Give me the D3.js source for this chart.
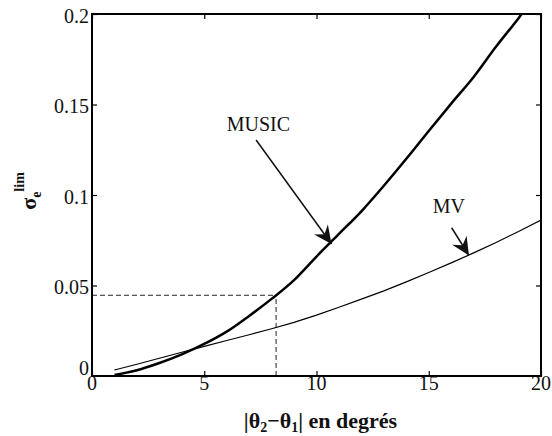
<!DOCTYPE html>
<html>
<head>
<meta charset="utf-8">
<script src="https://cdn.jsdelivr.net/npm/d3@7"></script>
</head>
<body style="margin:0">
<div id="chart"></div>
<script>
// angle separation (degrees)
const separation = [1, 2, 3, 4, 5, 6, 7, 8, 9, 10, 11, 12, 13, 14, 15, 16, 17, 18, 19, 20]
// threshold values
const musicValues = [0.0006, 0.0032, 0.0072, 0.0120, 0.0177, 0.0245, 0.0332, 0.0426, 0.0530, 0.0660,
    0.0785, 0.0910, 0.1051, 0.1200, 0.1354, 0.1505, 0.1652, 0.1820, 0.1977, 0.2145]
const mvValues = [0.0033, 0.0065, 0.0098, 0.0131, 0.0164, 0.0196, 0.0228, 0.0261, 0.0296, 0.0336,
    0.0380, 0.0425, 0.0470, 0.0520, 0.0572, 0.0625, 0.0680, 0.0738, 0.0798, 0.0862]
const xTicks = [0, 5, 10, 15, 20]
const yTicks = [0, 0.05, 0.1, 0.15, 0.2]
// dashed guide at the reference point
const guidePoint = [8.2, 0.0446]
// annotations: label position, arrow start, arrow tip (data units)
const annotations = [
    {label: "MUSIC", at: [6.0, 0.1355], from: [7.31, 0.1304], to: [10.67, 0.0729]},
    {label: "MV", at: [15.18, 0.0900], from: [16.02, 0.0819], to: [16.79, 0.0666]},
]

const serif = '"Liberation Serif", Tinos, "Times New Roman", "Nimbus Roman", Times'
const width = 552
const height = 436
const margin = {top: 14, right: 11, bottom: 60, left: 92}

const svg = d3.select("#chart").append("svg")
    .attr("width", width)
    .attr("height", height)

const x = d3.scaleLinear().domain([0, 20]).range([margin.left, width - margin.right])
const y = d3.scaleLinear().domain([0, 0.2]).range([height - margin.bottom, margin.top])

svg.append("defs").append("clipPath").attr("id", "plot-clip")
    .append("rect")
    .attr("x", x(0)).attr("y", y(0.2))
    .attr("width", x(20) - x(0)).attr("height", y(0) - y(0.2))

// dashed guide lines
const guides = svg.append("g")
    .attr("stroke", "#222")
    .attr("stroke-width", 1)
    .attr("stroke-dasharray", "5,3")
guides.append("line")
    .attr("x1", x(0)).attr("x2", x(guidePoint[0]))
    .attr("y1", y(guidePoint[1])).attr("y2", y(guidePoint[1]))
guides.append("line")
    .attr("x1", x(guidePoint[0])).attr("x2", x(guidePoint[0]))
    .attr("y1", y(0)).attr("y2", y(guidePoint[1]))

const smoothLine = d3.line()
    .x(d => x(d[0]))
    .y(d => y(d[1]))
    .curve(d3.curveMonotoneX)
const straightLine = d3.line()
    .x(d => x(d[0]))
    .y(d => y(d[1]))

const curves = svg.append("g").attr("clip-path", "url(#plot-clip)").attr("fill", "none")
curves.append("path")
    .attr("d", smoothLine(d3.zip(separation, musicValues)))
    .attr("stroke", "#000")
    .attr("stroke-width", 2.5)
    .attr("stroke-linejoin", "round")
curves.append("path")
    .attr("d", straightLine(d3.zip(separation, mvValues)))
    .attr("stroke", "#000")
    .attr("stroke-width", 1.2)

// axes: inward ticks on all four sides, labels drawn as plain text below
const axes = svg.append("g")
axes.append("g")
    .attr("transform", `translate(0,${y(0)})`)
    .call(d3.axisBottom(x).tickValues(xTicks).tickSizeInner(-5).tickSizeOuter(0).tickFormat(""))
axes.append("g")
    .attr("transform", `translate(0,${y(0.2)})`)
    .call(d3.axisTop(x).tickValues(xTicks).tickSizeInner(-5).tickSizeOuter(0).tickFormat(""))
axes.append("g")
    .attr("transform", `translate(${x(0)},0)`)
    .call(d3.axisLeft(y).tickValues(yTicks).tickSizeInner(-5).tickSizeOuter(0).tickFormat(""))
axes.append("g")
    .attr("transform", `translate(${x(20)},0)`)
    .call(d3.axisRight(y).tickValues(yTicks).tickSizeInner(-5).tickSizeOuter(0).tickFormat(""))
axes.selectAll(".domain").remove()
axes.selectAll(".tick text").remove()
axes.selectAll(".tick line").attr("stroke", "#000").attr("stroke-width", 1.2)

svg.selectAll(".x-label")
    .data(xTicks)
    .join("text")
    .attr("class", "x-label")
    .attr("font-family", serif)
    .attr("font-size", 20)
    .attr("fill", "#111")
    .attr("x", d => x(d))
    .attr("y", y(0) + 14)
    .attr("text-anchor", "middle")
    .text(d3.format("d"))

// y "0" sits above the corner like the original
svg.selectAll(".y-label")
    .data(yTicks)
    .join("text")
    .attr("class", "y-label")
    .attr("font-family", serif)
    .attr("font-size", 20)
    .attr("fill", "#111")
    .attr("x", x(0) - 3)
    .attr("y", d => d === 0 ? y(d) - 1 : y(d) + 8.5)
    .attr("text-anchor", "end")
    .text(d => d3.format("")(d))

svg.append("rect")
    .attr("x", x(0)).attr("y", y(0.2))
    .attr("width", x(20) - x(0)).attr("height", y(0) - y(0.2))
    .attr("fill", "none")
    .attr("stroke", "#000")
    .attr("stroke-width", 2)

// annotations with notched arrowheads
function arrowHead(tip, from) {
    const dx = tip[0] - from[0]
    const dy = tip[1] - from[1]
    const len = Math.hypot(dx, dy)
    const ux = dx / len, uy = dy / len
    const px = -uy, py = ux
    const headLen = 18, halfW = 8.5, notch = 12
    const bx = tip[0] - ux * headLen, by = tip[1] - uy * headLen
    return [
        [tip[0], tip[1]],
        [bx + px * halfW, by + py * halfW],
        [tip[0] - ux * notch, tip[1] - uy * notch],
        [bx - px * halfW, by - py * halfW],
    ]
}

annotations.forEach(a => {
    const from = [x(a.from[0]), y(a.from[1])]
    const tip = [x(a.to[0]), y(a.to[1])]
    svg.append("line")
        .attr("x1", from[0]).attr("y1", from[1])
        .attr("x2", tip[0]).attr("y2", tip[1])
        .attr("stroke", "#111")
        .attr("stroke-width", 1.5)
    svg.append("polygon")
        .attr("points", arrowHead(tip, from).map(p => p.join(",")).join(" "))
        .attr("fill", "#111")
    svg.append("text")
        .attr("font-family", serif)
        .attr("font-size", 20)
        .attr("fill", "#111")
        .attr("x", x(a.at[0]))
        .attr("y", y(a.at[1]))
        .text(a.label)
})

// axis titles
const xTitle = svg.append("text")
    .attr("font-family", serif)
    .attr("x", (x(0) + x(20)) / 2 + 4)
    .attr("y", 428)
    .attr("text-anchor", "middle")
    .attr("font-size", 22)
    .attr("font-weight", "bold")
    .attr("fill", "#111")
xTitle.append("tspan").text("|θ")
xTitle.append("tspan").attr("font-size", 14).attr("dy", 4).text("2")
xTitle.append("tspan").attr("dy", -4).text("−θ")
xTitle.append("tspan").attr("font-size", 14).attr("dy", 4).text("1")
xTitle.append("tspan").attr("dy", -4).text("| en degrés")

const yTitle = svg.append("text")
    .attr("font-family", serif)
    .attr("transform", `translate(36,${191}) rotate(-90)`)
    .attr("text-anchor", "middle")
    .attr("font-weight", "bold")
    .attr("font-size", 24)
    .attr("fill", "#111")
yTitle.append("tspan").attr("font-size", 22).text("σ")
yTitle.append("tspan").attr("font-size", 14).attr("dy", 5).text("e")
yTitle.append("tspan").attr("font-size", 14).attr("dy", -17).text("lim")
</script>
</body>
</html>
